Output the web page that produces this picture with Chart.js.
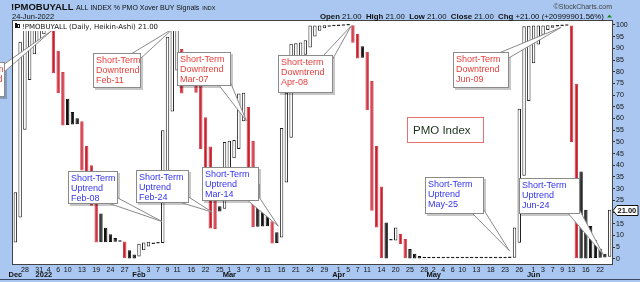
<!DOCTYPE html>
<html>
<head>
<meta charset="utf-8">
<script src="https://cdn.jsdelivr.net/npm/chart.js@4.4.1/dist/chart.umd.min.js"></script>
<style>
  html, body { margin: 0; padding: 0; background: #a9c7f0; }
  #wrap { width: 640px; height: 282px; position: relative; }
</style>
</head>
<body>
<div id="wrap"><canvas id="chart"></canvas></div>
<script>
// --- Trading days (Dec 2021 - Jun 2022) ---
const dates = [
    '12-23', '12-27', '12-28', '12-29', '12-30', '12-31',
    '01-03', '01-04', '01-05', '01-06', '01-07', '01-10', '01-11', '01-12', '01-13', '01-14',
    '01-18', '01-19', '01-20', '01-21', '01-24', '01-25', '01-26', '01-27', '01-28', '01-31',
    '02-01', '02-02', '02-03', '02-04', '02-07', '02-08', '02-09', '02-10', '02-11', '02-14',
    '02-15', '02-16', '02-17', '02-18', '02-22', '02-23', '02-24', '02-25', '02-28',
    '03-01', '03-02', '03-03', '03-04', '03-07', '03-08', '03-09', '03-10', '03-11', '03-14',
    '03-15', '03-16', '03-17', '03-18', '03-21', '03-22', '03-23', '03-24', '03-25', '03-28',
    '03-29', '03-30', '03-31',
    '04-01', '04-04', '04-05', '04-06', '04-07', '04-08', '04-11', '04-12', '04-13', '04-14',
    '04-18', '04-19', '04-20', '04-21', '04-22', '04-25', '04-26', '04-27', '04-28', '04-29',
    '05-02', '05-03', '05-04', '05-05', '05-06', '05-09', '05-10', '05-11', '05-12', '05-13',
    '05-16', '05-17', '05-18', '05-19', '05-20', '05-23', '05-24', '05-25', '05-26', '05-27', '05-31',
    '06-01', '06-02', '06-03', '06-06', '06-07', '06-08', '06-09', '06-10', '06-13', '06-14',
    '06-15', '06-16', '06-17', '06-21', '06-22', '06-23', '06-24'
];

// --- Heikin-Ashi bodies (open / close) ---
const haOpen = [
    7, 17.7, 55.2, 76.5, 87.5, 93,
    96, 97.7, 98.6, 89, 79.9, 68.5, 62.8, 60.1, 58.8, 48.3, 40, 31, 19.4, 13.3, 10.5, 8.9, 7.6, 7.45, 3.7, 1.9,
    1, 3.7, 5.3, 6.3, 6.6, 6.8, 31, 63, 80.5, 89.7, 80.2, 79.9, 77.2, 74.1, 60.5, 48, 30.5, 22.5, 21.4,
    35.7, 43, 47, 58.8, 64.9, 50.5, 32, 22.8, 18.3, 16.1, 11.4, 9.1, 32.6, 51.8, 71.9, 82, 87.3, 90.4, 95.1, 97.5, 98.6, 99.2, 99.5,
    99.6, 99.7, 99.8, 99.85, 96.1, 90.9, 88.5, 76, 48.3, 30.9, 15.5, 7.8, 7.85, 10.6, 8.5, 4.25, 2.2, 1.2, 0.7, 0.45,
    0.3, 0.3, 0.3, 0.3, 0.3, 0.3, 0.3, 0.3, 0.3, 0.3, 0.3, 0.3, 0.3, 0.3, 0.3, 0.3, 0.4, 0.45, 6.9, 35.5, 67.5,
    83.6, 91.7, 95.8, 97.8, 98.8, 99.3, 99.55, 99.7, 99.8, 74.9, 37.4, 21, 14, 8, 4.3, 2.2, 0.9
];
const haClose = [
    28.5, 92.8, 97.9, 98.5, 99, 99.2,
    99.4, 99.5, 79.4, 70.8, 57, 57.2, 57.4, 57.5, 37.8, 34.8, 22.7, 7, 7.05, 7.1, 7.2, 7.3, 7.35, 0, 0.1, 0.2,
    6.5, 7, 7.3, 6.9, 7, 55, 95, 98, 99, 70.7, 79.6, 74.5, 71, 47, 36, 13, 12.8, 20.3, 50,
    50.5, 50.8, 70.7, 71, 36, 13.5, 13.7, 13.8, 13.9, 6.6, 6.8, 56, 71, 92, 92.2, 92.5, 93.5, 99.8, 99.8, 99.8, 99.85, 99.85, 99.85,
    99.85, 99.9, 99.9, 92.4, 85.7, 86, 63.5, 20.6, 13.4, 0, 0.1, 7.9, 13.4, 6.4, 0, 0.1, 0.15, 0.2, 0.25, 0.3,
    0.4, 0.4, 0.4, 0.4, 0.4, 0.4, 0.4, 0.4, 0.4, 0.4, 0.4, 0.4, 0.4, 0.4, 0.4, 0.4, 0.5, 13.4, 64.2, 99.5, 99.7,
    99.8, 99.8, 99.8, 99.85, 99.85, 99.85, 99.9, 99.9, 50, 0, 0.1, 0.2, 0.3, 0.4, 0.5, 0.6, 21
];

// --- Axis labels ---
const dayLabels = [
    '12-28', '12-31', '01-04', '01-06', '01-10', '01-13', '01-19', '01-24', '01-27',
    '02-01', '02-03', '02-07', '02-09', '02-11', '02-16', '02-22', '02-25',
    '03-01', '03-03', '03-07', '03-09', '03-11', '03-16', '03-21', '03-24', '03-29',
    '04-01', '04-05', '04-07', '04-11', '04-14', '04-20', '04-25', '04-28',
    '05-02', '05-04', '05-06', '05-10', '05-13', '05-18', '05-23', '05-26',
    '06-01', '06-03', '06-07', '06-09', '06-13', '06-16', '06-22'
];
const monthStarts = ['12-23', '01-03', '02-01', '03-01', '04-01', '05-02', '06-01'];
const monthNames = ['Dec', '2022', 'Feb', 'Mar', 'Apr', 'May', 'Jun'];

const RED = '#e8413c';
const BLUE = '#3434ee';
const FONT = '"Liberation Sans", Arial, sans-serif';

// --- Callouts: tip is [bar index, value], box in pixels ---
const callouts = [
    { lines: ['Short-Term', 'Downtrend', 'Jan-05'], color: RED, box: [-44, 62, 48, 34], base: 'right', tip: [7.6, 97.5] },
    { lines: ['Short-Term', 'Downtrend', 'Feb-11'], color: RED, box: [93, 53, 47, 34], base: 'topright', tip: [33.2, 98.5] },
    { lines: ['Short-Term', 'Uptrend', 'Feb-08'], color: BLUE, box: [68, 171, 49, 32], base: 'bottomright', tip: [30.8, 16] },
    { lines: ['Short-Term', 'Uptrend', 'Feb-24'], color: BLUE, box: [136, 170, 52, 32], base: 'bottomright', tip: [41.4, 20] },
    { lines: ['Short-Term', 'Downtrend', 'Mar-07'], color: RED, box: [177, 52, 53, 33], base: 'bottomright', tip: [48.6, 59] },
    { lines: ['Short-Term', 'Uptrend', 'Mar-14'], color: BLUE, box: [202, 167, 56, 33], base: 'bottomright', tip: [55.3, 14] },
    { lines: ['Short-term', 'Downtrend', 'Apr-08'], color: RED, box: [278, 55, 54, 37], base: 'topright', tip: [70.6, 99.5] },
    { lines: ['Short-Term', 'Uptrend', 'May-25'], color: BLUE, box: [425, 177, 58, 36], base: 'bottomright', tip: [103.9, 3.5] },
    { lines: ['Short-Term', 'Downtrend', 'Jun-09'], color: RED, box: [453, 52, 55, 35], base: 'topright', tip: [114.8, 99] },
    { lines: ['Short-Term', 'Uptrend', 'Jun-24'], color: BLUE, box: [519, 178, 60, 35], base: 'bottomright', tip: [123.7, 1.7] }
];

// candle colours: hollow when rising, black when filled but above prior close, red otherwise
const fills = haOpen.map((o, i) => {
    if (haClose[i] >= o) return '#ffffff';
    return (i > 0 && haClose[i] > haClose[i - 1]) ? '#111111' : '#c8202e';
});
const borders = fills.map(f => f === '#ffffff' ? '#222222' : (f === '#c8202e' ? '#d23a46' : '#111111'));

function drawCallout(ctx, chart, c) {
    const x = chart.scales.x, y = chart.scales.y;
    const tx = x.getPixelForValue(c.tip[0]);
    const ty = y.getPixelForValue(c.tip[1]);
    const [bx, by, bw, bh] = c.box;
    let b1, b2;
    if (c.base === 'topright') { b1 = [bx + bw - 9, by + 1]; b2 = [bx + bw - 1, by + 7]; }
    else if (c.base === 'bottomright') { b1 = [bx + bw - 12, by + bh - 1]; b2 = [bx + bw - 1, by + bh - 6]; }
    else { b1 = [bx + bw - 1, by + 3]; b2 = [bx + bw - 1, by + 11]; }

    ctx.save();
    // shadow
    ctx.fillStyle = 'rgba(0,0,0,0.22)';
    ctx.fillRect(bx + 2, by + 2, bw + 1, bh + 1);
    // tail
    ctx.beginPath();
    ctx.moveTo(b1[0], b1[1]);
    ctx.lineTo(tx, ty);
    ctx.lineTo(b2[0], b2[1]);
    ctx.closePath();
    ctx.fillStyle = '#ffffff';
    ctx.fill();
    ctx.strokeStyle = '#8a8a8a';
    ctx.lineWidth = 1;
    ctx.stroke();
    // box covers the tail base
    ctx.fillRect(bx, by, bw + 1, bh + 1);
    ctx.strokeRect(bx + 0.5, by + 0.5, bw, bh);
    // text
    ctx.fillStyle = c.color;
    ctx.font = '9px ' + FONT;
    ctx.textBaseline = 'middle';
    c.lines.forEach((t, i) => ctx.fillText(t, bx + 3, by + 7.5 + i * 10));
    ctx.restore();
}

const decorPlugin = {
    id: 'decor',
    beforeDraw(chart) {
        const { ctx, chartArea: a } = chart;
        ctx.save();
        ctx.fillStyle = '#a9c7f0';
        ctx.fillRect(0, 0, chart.width, chart.height);
        ctx.fillStyle = '#ffffff';
        ctx.fillRect(a.left, a.top, a.right - a.left, a.bottom - a.top);
        ctx.restore();
    },
    afterDatasetsDraw(chart) {
        const { ctx, chartArea: a } = chart;
        const xs = chart.scales.x, ys = chart.scales.y;
        ctx.save();

        callouts.forEach(c => drawCallout(ctx, chart, c));

        // PMO Index label
        ctx.fillStyle = '#ffffff';
        ctx.fillRect(407, 117, 76, 25);
        ctx.strokeStyle = '#e87070';
        ctx.strokeRect(407.5, 117.5, 76, 25);
        ctx.fillStyle = '#1c331c';
        ctx.font = '11.5px ' + FONT;
        ctx.textBaseline = 'middle';
        ctx.fillText('PMO Index', 413, 130.5);

        // legend line inside the plot
        ctx.fillStyle = '#ffffff';
        ctx.fillRect(a.left + 1, a.top + 1, 168, 9);
        ctx.fillStyle = '#111';
        ctx.fillRect(15, 23, 2, 5);
        ctx.strokeStyle = '#111';
        ctx.strokeRect(17.5, 24.5, 2, 3);
        ctx.font = '7px "DejaVu Sans", Verdana, sans-serif';
        ctx.textBaseline = 'alphabetic';
        ctx.fillText('!PMOBUYALL (Daily, Heikin-Ashi) ' + haClose[haClose.length - 1].toFixed(2), 22, 28.5);

        // plot frame
        ctx.strokeStyle = '#444';
        ctx.lineWidth = 1;
        ctx.strokeRect(a.left - 0.5, a.top - 0.5, a.right - a.left + 1, a.bottom - a.top + 1);

        // header
        ctx.fillStyle = '#111';
        ctx.font = 'bold 9.5px ' + FONT;
        ctx.fillText('!PMOBUYALL', 11, 10);
        ctx.font = '7px ' + FONT;
        ctx.fillText('ALL INDEX % PMO Xover BUY Signals', 76, 10);
        const tw = ctx.measureText('ALL INDEX % PMO Xover BUY Signals').width;
        ctx.font = '5.5px ' + FONT;
        ctx.fillText('INDX', 76 + tw + 3, 10);
        ctx.font = '7.5px ' + FONT;
        ctx.fillText('24-Jun-2022', 12, 18.5);

        ctx.fillStyle = '#444';
        ctx.font = '7px ' + FONT;
        ctx.textAlign = 'right';
        ctx.fillText('\u00A9StockCharts.com', 612, 8.5);
        ctx.textAlign = 'left';

        const last = haClose[haClose.length - 1];
        const parts = [
            ['Open ', true], [last.toFixed(2) + '  ', false],
            ['High ', true], [last.toFixed(2) + '  ', false],
            ['Low ', true], [last.toFixed(2) + '  ', false],
            ['Close ', true], [last.toFixed(2) + '  ', false],
            ['Chg ', true], ['+21.00 (+20999901.56%) ', false]
        ];
        const fb = 'bold 7.8px ' + FONT;
        const fr = '7.8px ' + FONT;
        let total = 0;
        parts.forEach(p => { ctx.font = p[1] ? fb : fr; total += ctx.measureText(p[0]).width; });
        let px = 606 - total;
        ctx.fillStyle = '#111';
        parts.forEach(p => {
            ctx.font = p[1] ? fb : fr;
            ctx.fillText(p[0], px, 18.5);
            px += ctx.measureText(p[0]).width;
        });
        ctx.fillStyle = '#1a8a1a';
        ctx.beginPath();
        ctx.moveTo(607, 17.5); ctx.lineTo(612, 17.5); ctx.lineTo(609.5, 14.5);
        ctx.closePath();
        ctx.fill();

        // month labels
        ctx.fillStyle = '#111';
        ctx.font = 'bold 7.5px ' + FONT;
        ctx.textAlign = 'center';
        ctx.textBaseline = 'middle';
        monthStarts.forEach((d, i) => {
            const xp = xs.getPixelForValue(dates.indexOf(d));
            ctx.fillText(monthNames[i], xp, 275);
        });

        // last value tag
        const vy = Math.round(ys.getPixelForValue(last)) + 0.5;
        ctx.beginPath();
        ctx.moveTo(613, vy);
        ctx.lineTo(617, vy - 5);
        ctx.lineTo(638, vy - 5);
        ctx.lineTo(638, vy + 5);
        ctx.lineTo(617, vy + 5);
        ctx.closePath();
        ctx.fillStyle = '#ffffff';
        ctx.fill();
        ctx.strokeStyle = '#111';
        ctx.stroke();
        ctx.fillStyle = '#111';
        ctx.font = 'bold 7.5px ' + FONT;
        ctx.textAlign = 'left';
        ctx.fillText(last.toFixed(2), 617.5, vy + 0.5);

        // bottom border
        ctx.fillStyle = '#3c4a66';
        ctx.fillRect(0, 279, chart.width, 1);
        ctx.restore();
    }
};

new Chart(document.getElementById('chart'), {
    type: 'bar',
    data: {
        labels: dates,
        datasets: [{
            data: haOpen.map((o, i) => [o, haClose[i]]),
            backgroundColor: fills,
            borderColor: borders,
            borderWidth: 1,
            borderSkipped: false,
            minBarLength: 1.5,
            barPercentage: 0.72,
            categoryPercentage: 1
        }]
    },
    options: {
        responsive: true,
        maintainAspectRatio: false,
        animation: false,
        layout: { padding: { left: 13, top: 21, right: 0, bottom: 0 } },
        plugins: {
            legend: { display: false },
            tooltip: { enabled: false }
        },
        scales: {
            x: {
                type: 'category',
                offset: true,
                grid: { display: false, drawTicks: false },
                border: { display: false },
                ticks: {
                    autoSkip: false,
                    maxRotation: 0,
                    padding: 2,
                    color: '#111',
                    font: { family: FONT, size: 7 },
                    callback: (v, i) => dayLabels.includes(dates[i]) ? String(parseInt(dates[i].slice(3), 10)) : ''
                },
                afterFit: s => { s.height = 18; }
            },
            y: {
                position: 'right',
                min: -2.2,
                max: 101.7,
                grid: { drawOnChartArea: false, drawTicks: true, tickLength: 3, color: '#333' },
                border: { display: false },
                ticks: {
                    stepSize: 5,
                    includeBounds: false,
                    padding: 1,
                    color: '#111',
                    font: { family: FONT, size: 7 },
                    callback: v => (v >= 0 && v <= 100 && v % 5 === 0) ? String(v) : ''
                },
                afterFit: s => { s.width = 28; }
            }
        }
    },
    plugins: [decorPlugin]
});
</script>
</body>
</html>
